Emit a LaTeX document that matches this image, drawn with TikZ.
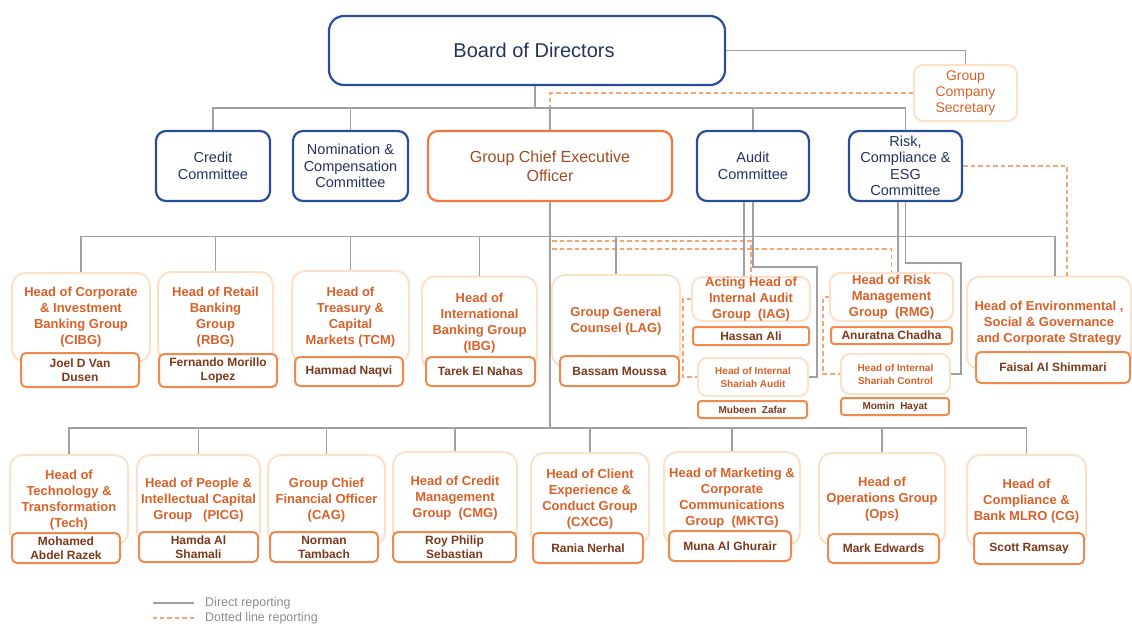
\documentclass[tikz,border=0pt]{standalone}
\usepackage{fontspec}
\setmainfont{Liberation Sans}
\usepackage{tikz}

\definecolor{bdblue}{HTML}{2A4D9B}
\definecolor{bdnavy}{HTML}{25325F}
\definecolor{ceoor}{HTML}{F07A3E}
\definecolor{ceotxt}{HTML}{A44A22}
\definecolor{paleor}{HTML}{FCE1C8}
\definecolor{nameor}{HTML}{F08A4C}
\definecolor{titleor}{HTML}{D8612A}
\definecolor{namebr}{HTML}{7C3A1C}
\definecolor{linegray}{HTML}{A0A0A0}
\definecolor{dashor}{HTML}{F5A474}
\definecolor{legtxt}{HTML}{8C8C8C}

\tikzset{
	boardbox/.style={draw=bdblue, line width=2.2pt, rounded corners=15pt, text=bdnavy, font=\fontsize{20}{22}\selectfont, minimum width=396pt, minimum height=69pt},
	cmtbox/.style={draw=bdblue, line width=2.2pt, rounded corners=10pt, text=bdnavy, align=center, font=\fontsize{14.5}{16.5}\selectfont, minimum height=70pt, inner sep=1pt},
	ceobox/.style={draw=ceoor, line width=2.2pt, rounded corners=10pt, text=ceotxt, align=center, font=\fontsize{16}{19}\selectfont, minimum width=244pt, minimum height=70pt},
	secbox/.style={draw=paleor, line width=2pt, rounded corners=9pt, text=titleor, align=center, font=\fontsize{14}{16}\selectfont, minimum width=103pt, minimum height=56pt, inner sep=0pt},
	rolebox/.style={draw=paleor, fill=white, line width=2pt, rounded corners=13pt, text=titleor, align=center, font=\bfseries\fontsize{13}{16}\selectfont, inner sep=0pt},
	namebox/.style={draw=nameor, fill=white, line width=2pt, rounded corners=5pt, text=namebr, align=center, font=\bfseries\fontsize{12}{14}\selectfont, inner sep=0pt},
	smallrole/.style={rolebox, rounded corners=9pt, font=\bfseries\fontsize{10}{13}\selectfont},
	smallname/.style={namebox, rounded corners=3pt, font=\bfseries\fontsize{10}{12}\selectfont},
	link/.style={draw=linegray, line width=1.4pt},
	dotlink/.style={draw=dashor, line width=1.3pt, dash pattern=on 4.5pt off 3pt},
	legtext/.style={text=legtxt, font=\fontsize{12.5}{14}\selectfont, anchor=west, inner sep=0pt},
}

\begin{document}
\begin{tikzpicture}[x=1pt,y=-1pt]
	\useasboundingbox (0,0) rectangle (1132,625);

	% board and committees
	\node[boardbox] (board) at (527,50.5) {\hspace*{14pt}Board of Directors};
	\node[secbox] (gcs) at (965.5,93) {Group\\Company\\Secretary};
	\node[cmtbox, minimum width=114pt] (credit) at (213,166) {Credit\\Committee};
	\node[cmtbox, minimum width=115pt] (nomcomp) at (350.5,166) {Nomination \&\\Compensation\\Committee};
	\node[ceobox] (gceo) at (550,166) {Group Chief Executive\\Officer};
	\node[cmtbox, minimum width=112pt] (audit) at (753,166) {Audit\\Committee};
	\node[cmtbox, minimum width=113pt] (risk) at (905.5,166) {Risk,\\Compliance \&\\ESG\\Committee};

	% first row of heads
	\node[rolebox, minimum width=138pt, minimum height=89pt] (cibg) at (81,317.5) {Head of Corporate\\\& Investment\\Banking Group\\(CIBG)};
	\node[rolebox, minimum width=115pt, minimum height=90pt] (rbg) at (215.5,317) {Head of Retail\\Banking\\Group\\(RBG)};
	\node[rolebox, minimum width=117pt, minimum height=92pt] (tcm) at (350.5,317) {Head of\\Treasury \&\\Capital\\Markets (TCM)};
	\node[rolebox, minimum width=115pt, minimum height=93pt] (ibg) at (479.5,323) {Head of\\International\\Banking Group\\(IBG)};
	\node[rolebox, minimum width=128pt, minimum height=92pt] (lag) at (616,321) {Group General\\Counsel (LAG)};
	\node[rolebox, rounded corners=10pt, minimum width=118pt, minimum height=44pt] (iag) at (751,299) {Acting Head of\\Internal Audit\\Group~~(IAG)};
	\node[rolebox, rounded corners=10pt, minimum width=123pt, minimum height=48pt] (rmg) at (891.5,297) {Head of Risk\\Management\\Group~~(RMG)};
	\node[smallrole, minimum width=110pt, minimum height=38pt] (isa) at (753,377) {Head of Internal\\Shariah Audit};
	\node[smallrole, minimum width=109pt, minimum height=40pt] (isc) at (895.5,374) {Head of Internal\\Shariah Control};
	\node[rolebox, minimum width=164pt, minimum height=93pt] (esg) at (1049,323) {Head of Environmental ,\\Social \& Governance\\and Corporate Strategy};

	\node[namebox, minimum width=118pt, minimum height=34pt] (cibgname) at (80,370) {Joel D Van\\Dusen};
	\node[namebox, minimum width=118pt, minimum height=33pt] (rbgname) at (218,370.5) {Fernando Morillo\\Lopez};
	\node[namebox, minimum width=108pt, minimum height=29pt] (tcmname) at (349,371.5) {Hammad Naqvi};
	\node[namebox, minimum width=109pt, minimum height=29pt] (ibgname) at (480.5,371.5) {Tarek El Nahas};
	\node[namebox, minimum width=119pt, minimum height=30pt] (lagname) at (619.5,371) {Bassam Moussa};
	\node[namebox, rounded corners=3pt, minimum width=116pt, minimum height=18pt] (iagname) at (751,336) {Hassan Ali};
	\node[namebox, rounded corners=3pt, minimum width=121pt, minimum height=17pt] (rmgname) at (891.5,335.5) {Anuratna Chadha};
	\node[smallname, minimum width=109pt, minimum height=17pt] (isaname) at (752.5,409.5) {Mubeen~~Zafar};
	\node[smallname, minimum width=108pt, minimum height=17pt] (iscname) at (895,406.5) {Momin~~Hayat};
	\node[namebox, minimum width=154pt, minimum height=31pt] (esgname) at (1053,367.5) {Faisal Al Shimmari};

	% second row of heads
	\node[rolebox, minimum width=118pt, minimum height=90pt] (tech) at (69,500) {Head of\\Technology \&\\Transformation\\(Tech)};
	\node[rolebox, minimum width=123pt, minimum height=90pt] (picg) at (198.5,500) {Head of People \&\\Intellectual Capital\\Group~~~(PICG)};
	\node[rolebox, minimum width=117pt, minimum height=90pt] (cag) at (326.5,500) {Group Chief\\Financial Officer\\(CAG)};
	\node[rolebox, minimum width=124pt, minimum height=93pt] (cmg) at (455,498.5) {Head of Credit\\Management\\Group~~(CMG)};
	\node[rolebox, minimum width=118pt, minimum height=92pt] (cxcg) at (590,499) {Head of Client\\Experience \&\\Conduct Group\\(CXCG)};
	\node[rolebox, minimum width=136pt, minimum height=93pt] (mktg) at (732,498.5) {Head of Marketing \&\\Corporate\\Communications\\Group~~(MKTG)};
	\node[rolebox, minimum width=126pt, minimum height=92pt] (ops) at (882,499) {Head of\\Operations Group\\(Ops)};
	\node[rolebox, minimum width=119pt, minimum height=92pt] (cg) at (1026.5,501) {Head of\\Compliance \&\\Bank MLRO (CG)};

	\node[namebox, minimum width=108pt, minimum height=30pt] (techname) at (66,548) {Mohamed\\Abdel Razek};
	\node[namebox, minimum width=119pt, minimum height=30pt] (picgname) at (198.5,547) {Hamda Al\\Shamali};
	\node[namebox, minimum width=108pt, minimum height=30pt] (cagname) at (324,547) {Norman\\Tambach};
	\node[namebox, minimum width=123pt, minimum height=30pt] (cmgname) at (454.5,547) {Roy Philip\\Sebastian};
	\node[namebox, minimum width=110pt, minimum height=30pt] (cxcgname) at (588,548) {Rania Nerhal};
	\node[namebox, minimum width=122pt, minimum height=30pt] (mktgname) at (730,546) {Muna Al Ghurair};
	\node[namebox, minimum width=111pt, minimum height=29pt] (opsname) at (883.5,548.5) {Mark Edwards};
	\node[namebox, minimum width=110pt, minimum height=31pt] (cgname) at (1029,548.5) {Scott Ramsay};

	% bus points
	\coordinate (cbus) at (535,108);
	\coordinate (mbus) at (550,236.5);
	\coordinate (bbus) at (550,428);
	\coordinate (iagdot) at (552,241);
	\coordinate (rmgdot) at (552,249);
	\coordinate (auditturn) at (817,267);
	\coordinate (riskturn) at (961,263);
	\coordinate (auditleft) at ([xshift=-9pt]audit.south);
	\coordinate (riskleft) at ([xshift=-7.5pt]risk.south);
	\coordinate (esgtop) at ([xshift=6pt]esg.north);
	\coordinate (esgdot) at ([xshift=18pt]esg.north);

	% dotted line reporting
	\draw[dotlink] (gcs.west) -| (gceo.north);
	\draw[dotlink] (risk.east) -| (esgdot);
	\draw[dotlink] (iagdot) -| (iag.north);
	\draw[dotlink] (rmgdot) -| (rmg.north);
	\draw[dotlink] (iag.west) -- ++(-8,0) |- (isa.west);
	\draw[dotlink] (rmg.west) -- ++(-6,0) |- (isc.west);

	% direct reporting
	\draw[link] (board.east) -| (gcs.north);
	\draw[link] ([xshift=8pt]board.south) -- (cbus);
	\draw[link] (credit.north) |- (risk.north |- cbus) -- (risk.north);
	\foreach \c in {nomcomp,gceo,audit}
		\draw[link] (\c.north) -- (\c.north |- cbus);

	\draw[link] (gceo.south) -- (bbus);
	\draw[link] (cibg.north) |- (esgtop |- mbus) -- (esgtop);
	\foreach \r in {rbg,tcm,ibg,lag}
		\draw[link] (\r.north) -- (\r.north |- mbus);

	\draw[link] (auditleft) -- (auditleft |- iag.north);
	\draw[link] (audit.south) |- (auditturn) |- (isa.east);
	\draw[link] (riskleft) -- (riskleft |- rmg.north);
	\draw[link] (risk.south) |- (riskturn) |- (isc.east);

	\draw[link] (tech.north) |- (cg.north |- bbus) -- (cg.north);
	\foreach \r in {picg,cag,cmg,cxcg,mktg,ops}
		\draw[link] (\r.north) -- (\r.north |- bbus);

	% legend
	\node[legtext] (legdirect) at (205,603) {Direct reporting};
	\node[legtext] (legdotted) at (205,618) {Dotted line reporting};
	\draw[link] ([xshift=-11pt]legdirect.west) -- ++(-41,0);
	\draw[dotlink] ([xshift=-11pt]legdotted.west) -- ++(-41,0);
\end{tikzpicture}
\end{document}
